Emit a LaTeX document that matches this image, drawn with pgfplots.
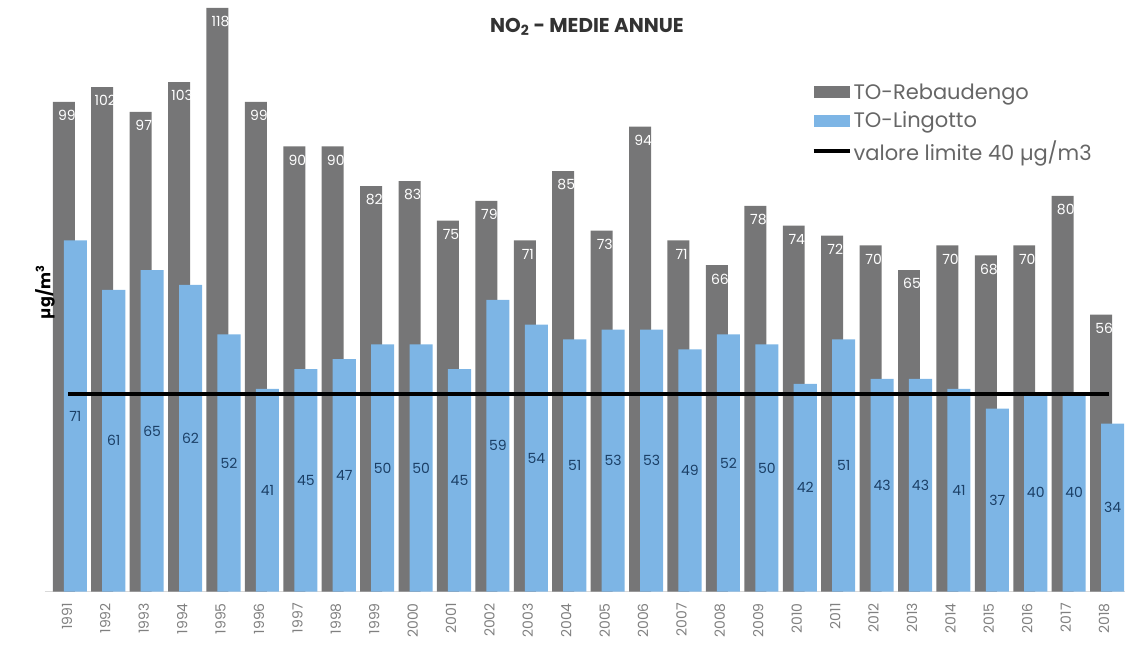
\documentclass[border=0pt]{standalone}
\usepackage{pgfplots}
\pgfplotsset{compat=1.18}
\usepackage{pgfplotstable}
\usepackage{fontspec}
\setmainfont{Poppins}
\definecolor{rebgray}{HTML}{767677}
\definecolor{linblue}{HTML}{7DB5E5}
\definecolor{navy}{HTML}{1B3F66}
\pgfplotstableread{
year reb lin
1991 99 71
1992 102 61
1993 97 65
1994 103 62
1995 118 52
1996 99 41
1997 90 45
1998 90 47
1999 82 50
2000 83 50
2001 75 45
2002 79 59
2003 71 54
2004 85 51
2005 73 53
2006 94 53
2007 71 49
2008 66 52
2009 78 50
2010 74 42
2011 72 51
2012 70 43
2013 65 43
2014 70 41
2015 68 37
2016 70 40
2017 80 40
2018 56 34
}\data
\begin{document}
\begin{tikzpicture}
\path (-45pt,-58pt) rectangle (1080pt,592pt);
\begin{axis}[
 at={(0pt,0pt)}, anchor=south west,
 scale only axis, width=1080pt, height=592pt,
 xmin=1990.43, xmax=2018.53, ymin=0, ymax=119.6,
 axis x line=bottom, axis y line=none,
 x axis line style={draw=black!15, line width=1pt, -},
 xtick={1991,...,2018},
 xticklabel style={rotate=90, anchor=east, font=\fontsize{14}{14}\selectfont, text=black!50, xshift=-8pt},
 major tick length=0pt,
 /pgf/number format/1000 sep={}, /pgf/number format/assume math mode=true,
 clip=false,
 legend style={at={(rel axis cs:0.710,0.862)}, anchor=north west, draw=none, fill=none,
   font=\fontsize{21}{23}\selectfont, text=black!60, inner sep=0pt, row sep=7pt,
   cells={anchor=west}},
]
\addplot[ybar, bar width=0.572, bar shift=-0.08, fill=rebgray, draw=none,
  legend image code/.code={\fill[rebgray] (0pt,-6pt) rectangle (36pt,6pt);},
  nodes near coords,
  every node near coord/.append style={anchor=north, text=white, font=\fontsize{14}{14}\selectfont, yshift=-5pt}]
  table[x=year,y=reb]{\data};
\addplot[ybar, bar width=0.6, bar shift=0.22, fill=linblue, draw=none,
  legend image code/.code={\fill[linblue] (0pt,-6pt) rectangle (36pt,6pt);}]
  table[x=year,y=lin]{\data};
\addplot[draw=none, mark=none, forget plot, nodes near coords, point meta=\thisrow{lin},
  every node near coord/.append style={anchor=center, text=navy, font=\fontsize{14}{14}\selectfont}]
  table[x expr=\thisrow{year}+0.22, y expr=\thisrow{lin}/2]{\data};
\addplot[black, line width=4pt,
  legend image code/.code={\draw[black, line width=4pt] (0pt,0pt) -- (36pt,0pt);}]
  coordinates {(1991.03,40) (2018.13,40)};
\legend{TO-Rebaudengo, TO-Lingotto, valore limite 40 µg/m3}
\node[font=\fontsize{20}{20}\selectfont\bfseries, text=black!80] at (rel axis cs:0.502,0.954) {NO\textsubscript{2} - MEDIE ANNUE};
\node[rotate=90, font=\fontsize{16}{16}\selectfont\bfseries] at (rel axis cs:0,0.55) [xshift=-26pt] {µg/m\textsuperscript{3}};
\end{axis}
\end{tikzpicture}
\end{document}
